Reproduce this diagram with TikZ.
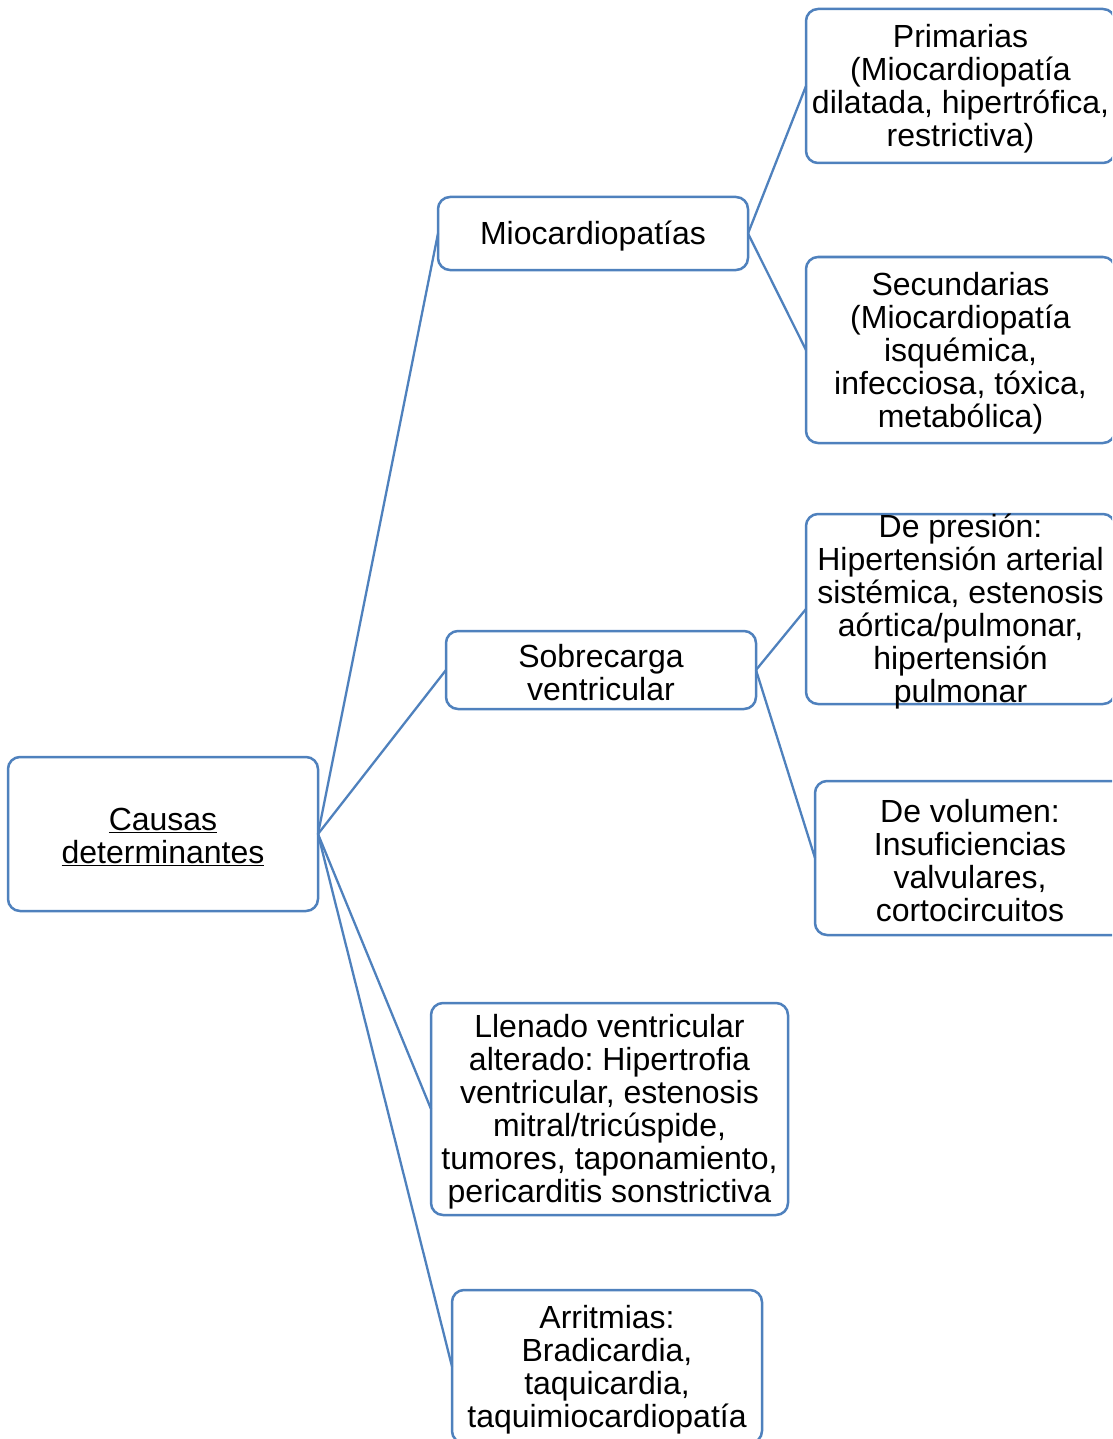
\documentclass[tikz,border=0pt]{standalone}
\usepackage{fontspec}
\setmainfont{Liberation Sans}
\frenchspacing
\definecolor{edgeblue}{RGB}{79,129,189}
\begin{document}
\begin{tikzpicture}[x=1pt,y=-1pt,
  box/.style 2 args={draw=edgeblue, line width=2.5pt, rounded corners=12pt,
    minimum width=#1pt, minimum height=#2pt, inner sep=0pt, outer sep=0pt, fill=white},
  lbl/.style={align=center, inner sep=0pt, yshift=-3pt, font=\fontsize{32}{33}\selectfont\frenchspacing, text=black},
  conn/.style={draw=edgeblue, line width=2.3pt}]
\useasboundingbox (0,0) rectangle (1112,1439);
\clip (0,0) rectangle (1112,1439);
\node[box={310}{154}] (causa) at (163,834) {};
\node[box={310}{73}]  (mio)   at (593,233.5) {};
\node[box={310}{78}]  (sob)   at (601,670) {};
\node[box={357}{212}] (llen)  at (609.5,1109) {};
\node[box={310}{153}] (arr)   at (607,1366.5) {};
\node[box={309}{154}] (prim)  at (960.5,86) {};
\node[box={309}{186}] (sec)   at (960.5,350) {};
\node[box={309}{190}] (pres)  at (960.5,609) {};
\node[box={310}{154}] (vol)   at (970,858) {};

\draw[conn] (causa.east) -- (mio.west);
\draw[conn] (causa.east) -- (sob.west);
\draw[conn] (causa.east) -- (llen.west);
\draw[conn] (causa.east) -- (arr.west);
\draw[conn] (mio.east) -- (prim.west);
\draw[conn] (mio.east) -- (sec.west);
\draw[conn] (sob.east) -- (pres.west);
\draw[conn] (sob.east) -- (vol.west);

\node[lbl] (tcausa) at (causa) {\underline{Causas}\\\underline{determinantes}};
\node[lbl] (tmio) at (mio) {Miocardiopatías};
\node[lbl] (tsob) at (sob) {Sobrecarga\\ventricular};
\node[lbl] (tllen) at (llen) {Llenado ventricular\\alterado: Hipertrofia\\ventricular, estenosis\\mitral/tricúspide,\\tumores, taponamiento,\\pericarditis sonstrictiva};
\node[lbl] (tarr) at (arr) {Arritmias:\\Bradicardia,\\taquicardia,\\taquimiocardiopatía};
\node[lbl] (tprim) at (prim) {Primarias\\(Miocardiopatía\\dilatada, hipertrófica,\\restrictiva)};
\node[lbl] (tsec) at (sec) {Secundarias\\(Miocardiopatía\\isquémica,\\infecciosa, tóxica,\\metabólica)};
\node[lbl] (tpres) at (pres) {De presión:\\Hipertensión arterial\\sistémica, estenosis\\aórtica/pulmonar,\\hipertensión\\pulmonar};
\node[lbl] (tvol) at (vol) {De volumen:\\Insuficiencias\\valvulares,\\cortocircuitos};
\end{tikzpicture}
\end{document}
